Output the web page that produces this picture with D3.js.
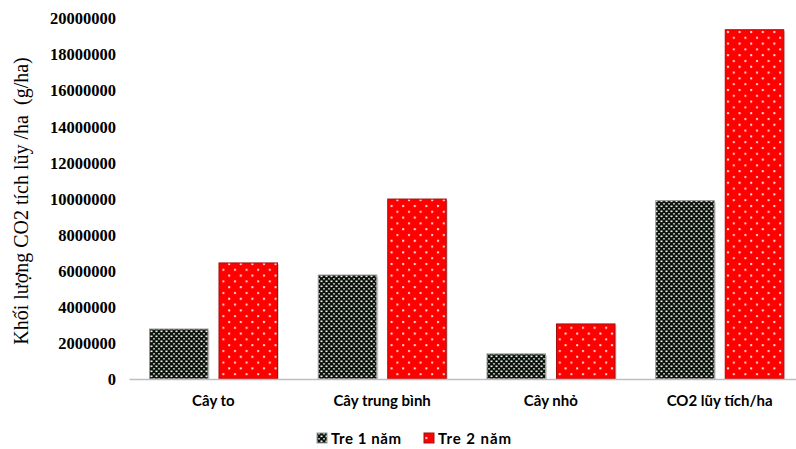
<!DOCTYPE html>
<html><head><meta charset="utf-8">
<script src="https://cdn.jsdelivr.net/npm/d3@7"></script>
<style>body{margin:0;background:#fff}</style>
</head><body><svg id="c" width="796" height="449"></svg>
<script>
// Accumulated CO2 per hectare by tree size, for 1-year and 2-year bamboo
const categories = ["Cây to", "Cây trung bình", "Cây nhỏ", "CO2 lũy tích/ha"];
const seriesNames = ["Tre 1 năm", "Tre 2 năm"];
const tre1Nam = [2770000, 5760000, 1390000, 9880000];
const tre2Nam = [6430000, 9970000, 3050000, 19350000];
const yTicks = [0, 2000000, 4000000, 6000000, 8000000, 10000000, 12000000, 14000000, 16000000, 18000000, 20000000];
const yTitle = "Khối lượng CO2 tích lũy /ha  (g/ha)";

const svg = d3.select("#c");
const defs = svg.append("defs");

// checker-dot fill for the 1-year series
const p1 = defs.append("pattern").attr("id", "pat1").attr("patternUnits", "userSpaceOnUse")
  .attr("width", 5).attr("height", 5);
p1.append("rect").attr("width", 5).attr("height", 5).attr("fill", "#0d120d");
p1.append("rect").attr("x", 0.5).attr("y", 0.5).attr("width", 2).attr("height", 1.6).attr("fill", "#f2f2f2");
p1.append("rect").attr("x", 3).attr("y", 3).attr("width", 2).attr("height", 1.6).attr("fill", "#9fb59f");

// dotted fill for the 2-year series
const p2 = defs.append("pattern").attr("id", "pat2").attr("patternUnits", "userSpaceOnUse")
  .attr("width", 11.6).attr("height", 11.6);
p2.append("rect").attr("width", 11.6).attr("height", 11.6).attr("fill", "#ff0000");
p2.append("rect").attr("x", 2).attr("y", 2).attr("width", 2).attr("height", 2).attr("fill", "#ffd0d0");
p2.append("rect").attr("x", 7.8).attr("y", 7.8).attr("width", 2).attr("height", 2).attr("fill", "#ffe6e6");

const x = d3.scaleBand().domain(categories).range([129, 804]).paddingInner(0).paddingOuter(0);
const xi = d3.scaleBand().domain(seriesNames).range([20.5, 148.5]).paddingInner(0.158);
const y = d3.scaleLinear().domain([0, 20000000]).range([379, 18]);

const fills = {"Tre 1 năm": "url(#pat1)", "Tre 2 năm": "url(#pat2)"};
const strokes = {"Tre 1 năm": "#9a9a9a", "Tre 2 năm": "#a01010"};
const rows = categories.map((c, i) => ({cat: c, vals: [
  {s: seriesNames[0], v: tre1Nam[i]}, {s: seriesNames[1], v: tre2Nam[i]}]}));

// y axis labels (no axis line)
const yAxis = svg.append("g").attr("transform", "translate(116,0)")
  .call(d3.axisLeft(y).tickValues(yTicks).tickFormat(d3.format("d")).tickSize(0).tickPadding(0));
yAxis.select(".domain").remove();
yAxis.selectAll("text").attr("font-family", "Liberation Serif").attr("font-weight", "bold")
  .attr("font-size", 16.5).attr("fill", "#000").attr("dy", "0.35em");

// bars
const g = svg.append("g");
rows.forEach(r => {
  r.vals.forEach(d => {
    const x0 = x(r.cat) + xi(d.s);
    g.append("rect").attr("x", x0 + 1.5).attr("y", y(d.v) + 1.5)
      .attr("width", xi.bandwidth()).attr("height", y(0) - y(d.v) - 1.5)
      .attr("fill", "#000").attr("opacity", 0.18);
    g.append("rect").attr("x", x0).attr("y", y(d.v))
      .attr("width", xi.bandwidth()).attr("height", y(0) - y(d.v))
      .attr("fill", fills[d.s]).attr("stroke", strokes[d.s]).attr("stroke-width", 1);
  });
});

// x axis
const xAxis = svg.append("g").attr("transform", `translate(0,${y(0)})`)
  .call(d3.axisBottom(x).tickSize(0).tickPadding(16));
xAxis.select(".domain").attr("stroke", "#bfbfbf").attr("stroke-width", 1.5);
xAxis.selectAll("text").attr("font-family", "Lato").attr("font-weight", "bold")
  .attr("font-size", 15).attr("fill", "#000");

// y title
svg.append("text").attr("transform", "translate(28,201) rotate(-90)")
  .attr("text-anchor", "middle").attr("font-family", "Liberation Serif")
  .attr("font-size", 20).attr("fill", "#000").style("white-space", "pre").text(yTitle);

// legend
const leg = svg.append("g").attr("font-family", "Lato").attr("font-weight", "bold").attr("font-size", 15);
const legX = [317, 424];
const legW = [70, 73];
seriesNames.forEach((s, i) => {
  leg.append("rect").attr("x", legX[i]).attr("y", 433).attr("width", 10).attr("height", 10)
    .attr("fill", fills[s]).attr("stroke", strokes[s]);
  leg.append("text").attr("x", legX[i] + 14).attr("y", 444)
    .attr("textLength", legW[i]).attr("lengthAdjust", "spacing").text(s);
});
</script></body></html>
